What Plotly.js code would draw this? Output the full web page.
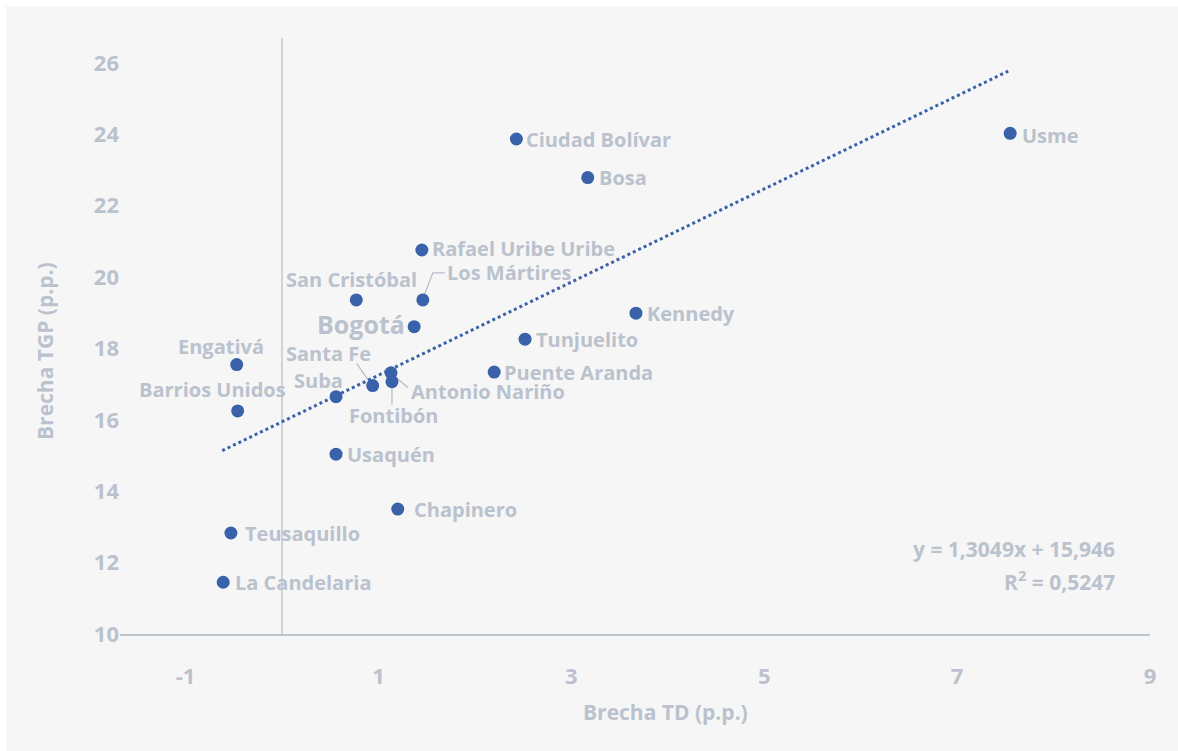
<!DOCTYPE html>
<html>
<head>
<meta charset="utf-8">
<script src="https://cdn.plot.ly/plotly-3.0.1.min.js"></script>
<style>
html,body{margin:0;padding:0;background:#ffffff;}
#chart{position:absolute;left:6px;top:6px;width:1172px;height:745px;}
</style>
</head>
<body>
<div id="chart"></div>
<script>
// Data
const localidades = ["Usme","Ciudad Bolívar","Bosa","Rafael Uribe Uribe","Los Mártires","San Cristóbal","Kennedy","Bogotá","Tunjuelito","Engativá","Puente Aranda","Antonio Nariño","Fontibón","Santa Fe","Suba","Barrios Unidos","Usaquén","Chapinero","Teusaquillo","La Candelaria"];
const brechaTD  = [7.55, 2.43, 3.17, 1.45, 1.46, 0.77, 3.67, 1.37, 2.52, -0.47, 2.20, 1.13, 1.14, 0.94, 0.56, -0.46, 0.56, 1.20, -0.53, -0.61];
const brechaTGP = [24.03, 23.87, 22.79, 20.76, 19.36, 19.36, 18.99, 18.61, 18.26, 17.55, 17.34, 17.32, 17.07, 16.96, 16.65, 16.25, 15.04, 13.50, 12.83, 11.45];
const slope = 1.3049, intercept = 15.946;
const trendX = [-0.62, 7.53];
const xTicks = [-1, 1, 3, 5, 7, 9];
const yTicks = [10, 12, 14, 16, 18, 20, 22, 24, 26];

const FONT = "'Open Sans', sans-serif";
const GREY = "#BAC2CD";
const BLUE = "#3A62AA";

// label placement: [anchor, xshift, yshift, size]
const place = {
  "Usme": ["left", 10, -2, 20],
  "Ciudad Bolívar": ["left", 8, 0, 20],
  "Bosa": ["left", 9, 0, 20],
  "Rafael Uribe Uribe": ["left", 8, 1, 20],
  "Los Mártires": ["left", 22, 27, 20],
  "San Cristóbal": ["center", -5, 20, 20],
  "Kennedy": ["left", 9, 0, 20],
  "Bogotá": ["right", -7, 3, 25],
  "Tunjuelito": ["left", 9, 0, 20],
  "Engativá": ["center", -16, 18, 20],
  "Puente Aranda": ["left", 8, 0, 20],
  "Antonio Nariño": ["left", 18, -19, 20],
  "Fontibón": ["center", 2, -34, 20],
  "Santa Fe": ["center", -44, 32, 20],
  "Suba": ["right", 9, 16, 20],
  "Barrios Unidos": ["center", -25, 21, 20],
  "Usaquén": ["left", 9, 0, 20],
  "Chapinero": ["left", 14, 0, 20],
  "Teusaquillo": ["left", 12, 0, 20],
  "La Candelaria": ["left", 10, 0, 20]
};

const annotations = localidades.map((n, i) => {
  const p = place[n];
  return {
    x: brechaTD[i], y: brechaTGP[i], xref: "x", yref: "y",
    text: n, showarrow: false, xanchor: p[0], yanchor: "middle",
    xshift: p[1], yshift: p[2],
    font: {family: FONT, size: p[3], color: GREY, weight: 700}
  };
});

annotations.push(
  {xref: "paper", yref: "paper", x: 1, y: 0.143, xshift: -33, xanchor: "right", yanchor: "middle",
   text: "y = 1,3049x + 15,946", showarrow: false, font: {family: FONT, size: 21, color: GREY, weight: 700}},
  {xref: "paper", yref: "paper", x: 1, y: 0.089, xshift: -33, xanchor: "right", yanchor: "middle",
   text: "R<sup>2</sup> = 0,5247", showarrow: false, font: {family: FONT, size: 21, color: GREY, weight: 700}},
  {xref: "paper", yref: "paper", x: 0.5, y: 0, xshift: 30, yshift: -78, xanchor: "center", yanchor: "middle",
   text: "Brecha TD (p.p.)", showarrow: false, font: {family: FONT, size: 21, color: GREY, weight: 700}},
  {xref: "paper", yref: "paper", x: 0, y: 0.5, xshift: -75, yshift: -15, xanchor: "center", yanchor: "middle",
   textangle: -90, text: "Brecha TGP (p.p.)", showarrow: false, font: {family: FONT, size: 21, color: GREY, weight: 700}}
);

function idx(n){ return localidades.indexOf(n); }
function leader(n, path){
  const i = idx(n);
  return {type: "path", xref: "x", yref: "y", xsizemode: "pixel", ysizemode: "pixel",
    xanchor: brechaTD[i], yanchor: brechaTGP[i], path: path,
    line: {color: "#B5BDC8", width: 1.2}, layer: "below"};
}
const shapes = [
  leader("Los Mártires", "M 1 4 L 10 27 L 22 27"),
  leader("Santa Fe", "M -16 22 L -2 2"),
  leader("Antonio Nariño", "M 1 -1 L 17 -15"),
  leader("Fontibón", "M 0 -2 L 0 -23")
];

const trace = {
  x: brechaTD, y: brechaTGP, mode: "markers", type: "scatter",
  marker: {color: BLUE, size: 13}, hoverinfo: "skip"
};
const trend = {
  x: trendX, y: trendX.map(v => slope * v + intercept), mode: "lines", type: "scatter",
  line: {color: BLUE, width: 3, dash: "dot"}, hoverinfo: "skip"
};

const layout = {
  width: 1172, height: 745,
  paper_bgcolor: "#F6F6F6", plot_bgcolor: "#F6F6F6",
  margin: {l: 114, r: 28, t: 32, b: 117},
  showlegend: false,
  xaxis: {range: [-1.68, 9], tickvals: xTicks, ticktext: xTicks.map(String),
    showgrid: false, zeroline: true, zerolinecolor: "#CDD3DA", zerolinewidth: 1.5,
    showline: true, linecolor: "#BCC4CE", linewidth: 1.5,
    ticks: "", ticklabelstandoff: 22,
    tickfont: {family: FONT, size: 22, color: GREY, weight: 700}},
  yaxis: {range: [10, 26.7], tickvals: yTicks, ticktext: yTicks.map(String),
    showgrid: false, zeroline: false, showline: false, ticks: "", ticklabelstandoff: 0,
    tickfont: {family: FONT, size: 22, color: GREY, weight: 700}},
  annotations: annotations,
  shapes: shapes,
  font: {family: FONT, color: GREY}
};

Plotly.newPlot("chart", [trend, trace], layout, {displayModeBar: false, staticPlot: true});
</script>
</body>
</html>
